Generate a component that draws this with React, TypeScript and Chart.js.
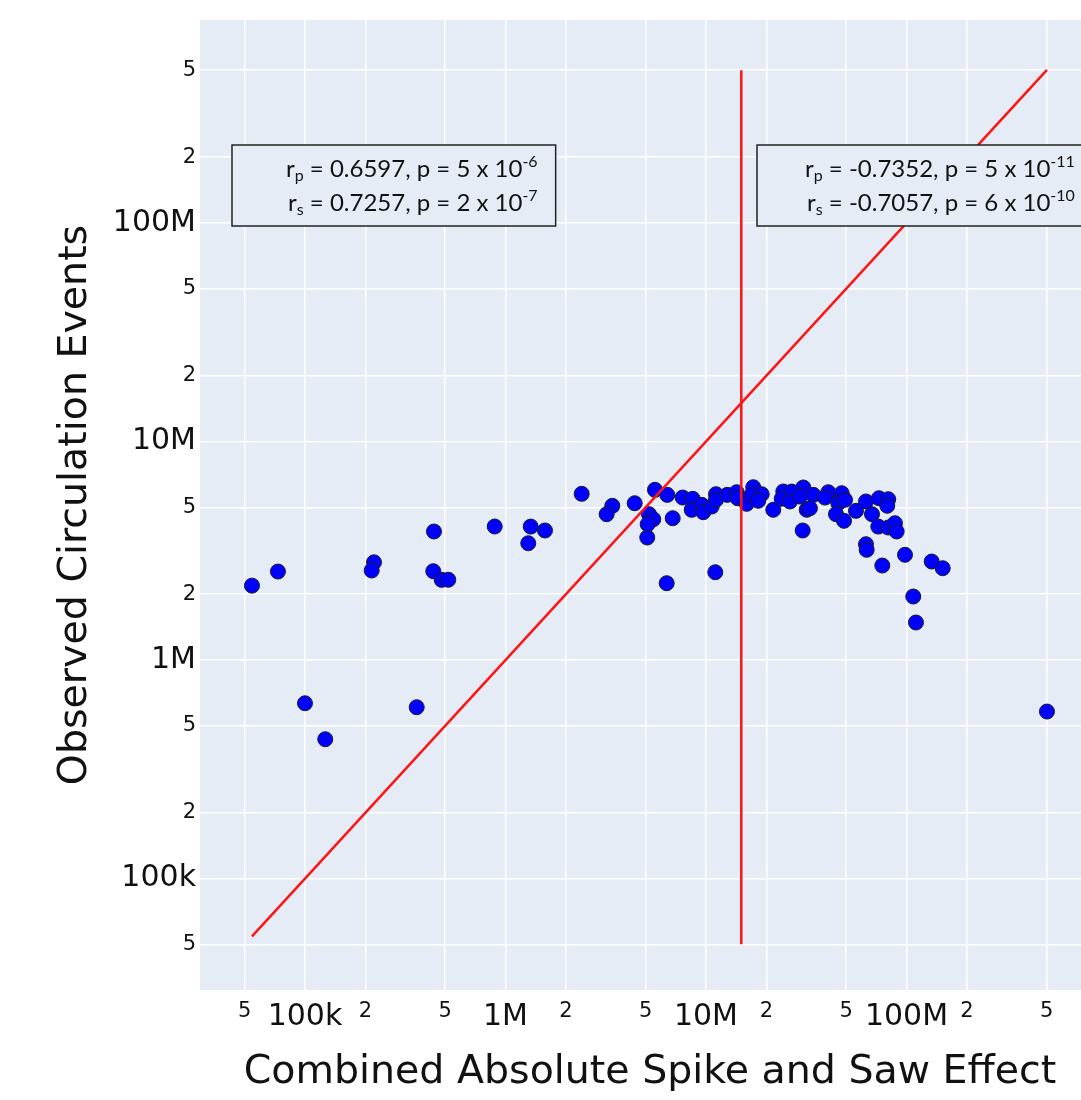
import React, { useEffect, useRef } from "react";
import { Chart, registerables } from "chart.js";

Chart.register(...registerables);

// Combined absolute spike and saw effect (x) vs observed circulation events (y)
const spikeSawEffect = [
  5.44e4, 7.33e4, 1.0e5, 1.262e5, 2.209e5, 2.151e5, 3.607e5, 4.399e5, 4.364e5, 4.806e5,
  5.185e5, 8.835e5, 1.336e6, 1.574e6, 1.299e6, 2.399e6, 3.41e6, 3.196e6, 4.41e6, 5.566e6,
  6.412e6, 5.195e6, 5.46e6, 5.12e6, 5.095e6, 6.823e6, 6.368e6, 7.65e6, 8.585e6, 8.487e6,
  9.52e6, 9.69e6, 1.068e7, 1.122e7, 1.122e7, 1.277e7, 1.423e7, 1.439e7, 1.596e7, 1.721e7,
  1.69e7, 1.896e7, 1.823e7, 2.166e7, 2.43e7, 2.386e7, 2.676e7, 2.624e7, 3.057e7, 2.943e7,
  3.18e7, 3.43e7, 3.036e7, 1.113e7, 3.3e7, 4.074e7, 3.922e7, 4.752e7, 4.57e7, 4.936e7,
  4.45e7, 4.88e7, 5.6e7, 6.28e7, 6.73e7, 7.29e7, 8.11e7, 8.02e7, 7.236e7, 8.11e7,
  8.76e7, 8.935e7, 6.28e7, 6.33e7, 7.575e7, 9.83e7, 1.336e8, 1.516e8, 1.081e8, 1.115e8,
  5.02e8,
];
const circulationEvents = [
  2.19e6, 2.54e6, 6.34e5, 4.34e5, 2.8e6, 2.568e6, 6.08e5, 3.874e6, 2.55e6, 2.328e6,
  2.33e6, 4.083e6, 4.08e6, 3.915e6, 3.424e6, 5.762e6, 5.077e6, 4.648e6, 5.218e6, 6.01e6,
  5.7e6, 4.65e6, 4.41e6, 4.183e6, 3.636e6, 4.457e6, 2.247e6, 5.542e6, 5.467e6, 4.868e6,
  5.131e6, 4.747e6, 5.04e6, 5.74e6, 5.41e6, 5.7e6, 5.861e6, 5.502e6, 5.186e6, 6.178e6,
  5.7e6, 5.74e6, 5.354e6, 4.87e6, 5.904e6, 5.47e6, 5.9e6, 5.315e6, 6.16e6, 5.6e6,
  4.87e6, 5.7e6, 3.915e6, 2.522e6, 4.95e6, 5.86e6, 5.54e6, 5.8e6, 5.22e6, 5.41e6,
  4.65e6, 4.336e6, 4.817e6, 5.315e6, 4.65e6, 5.5e6, 5.444e6, 5.08e6, 4.08e6, 4.04e6,
  4.228e6, 3.874e6, 3.388e6, 3.194e6, 2.707e6, 3.03e6, 2.823e6, 2.631e6, 1.953e6, 1.485e6,
  5.81e5,
];

// Reference lines
const identityLineX = [5.44e4, 5.02e8];
const identityLineY = [5.44e4, 5.02e8];
const thresholdLineX = [1.5e7, 1.5e7];
const thresholdLineY = [5e4, 5e8];

// Axis ticks
const axisTickValues = [5e4, 1e5, 2e5, 5e5, 1e6, 2e6, 5e6, 1e7, 2e7, 5e7, 1e8, 2e8, 5e8];
const axisTickLabels = ["5", "100k", "2", "5", "1M", "2", "5", "10M", "2", "5", "100M", "2", "5"];
const majorTickValues = [1e5, 1e6, 1e7, 1e8];

// Statistics annotations
const leftStatsSub = ["p", "s"];
const leftStatsText = [" = 0.6597, p = 5 x 10", " = 0.7257, p = 2 x 10"];
const leftStatsExp = ["-6", "-7"];
const rightStatsSub = ["p", "s"];
const rightStatsText = [" = -0.7352, p = 5 x 10", " = -0.7057, p = 6 x 10"];
const rightStatsExp = ["-11", "-10"];

const FONT = "'DejaVu Sans', Verdana, sans-serif";
const ANNO_FONT = "Lato, 'Open Sans', sans-serif";
const PLOT_BG = "#E5ECF6";
const MAIN_SIZE = 24;
const SMALL_SIZE = 16;

const isMajor = (v: number) => majorTickValues.some((m) => Math.abs(m - v) / m < 1e-6);
const labelFor = (v: number) => {
  const i = axisTickValues.findIndex((t) => Math.abs(t - v) / t < 1e-6);
  return i >= 0 ? axisTickLabels[i] : "";
};

const bgPlugin = {
  id: "plotBg",
  beforeDraw(chart: any) {
    const { ctx, chartArea } = chart;
    ctx.save();
    ctx.fillStyle = PLOT_BG;
    ctx.fillRect(chartArea.left, chartArea.top, chartArea.right - chartArea.left, chartArea.bottom - chartArea.top);
    ctx.restore();
  },
};

function measureLine(ctx: CanvasRenderingContext2D, sub: string, text: string, exp: string) {
  ctx.font = `${MAIN_SIZE}px ${ANNO_FONT}`;
  const wr = ctx.measureText("r").width;
  const wt = ctx.measureText(text).width;
  ctx.font = `${SMALL_SIZE}px ${ANNO_FONT}`;
  const ws = ctx.measureText(sub).width;
  const we = ctx.measureText(exp).width;
  return { wr, wt, ws, we, total: wr + ws + wt + we };
}

function drawLine(ctx: CanvasRenderingContext2D, sub: string, text: string, exp: string, right: number, baseline: number) {
  const m = measureLine(ctx, sub, text, exp);
  let x = right - m.total;
  ctx.textAlign = "left";
  ctx.textBaseline = "alphabetic";
  ctx.fillStyle = "#111";
  ctx.font = `${MAIN_SIZE}px ${ANNO_FONT}`;
  ctx.fillText("r", x, baseline);
  x += m.wr;
  ctx.font = `${SMALL_SIZE}px ${ANNO_FONT}`;
  ctx.fillText(sub, x, baseline + 4);
  x += m.ws;
  ctx.font = `${MAIN_SIZE}px ${ANNO_FONT}`;
  ctx.fillText(text, x, baseline);
  x += m.wt;
  ctx.font = `${SMALL_SIZE}px ${ANNO_FONT}`;
  ctx.fillText(exp, x, baseline - 10);
}

function drawBox(
  ctx: CanvasRenderingContext2D,
  left: number,
  top: number,
  padL: number,
  subs: string[],
  texts: string[],
  exps: string[]
) {
  let maxW = 0;
  for (let i = 0; i < texts.length; i++) maxW = Math.max(maxW, measureLine(ctx, subs[i], texts[i], exps[i]).total);
  const padR = 18;
  const w = padL + maxW + padR;
  const h = 81;
  ctx.save();
  ctx.fillStyle = "#E6ECF5";
  ctx.fillRect(left, top, w, h);
  ctx.strokeStyle = "#222";
  ctx.lineWidth = 1.5;
  ctx.strokeRect(left, top, w, h);
  for (let i = 0; i < texts.length; i++) {
    drawLine(ctx, subs[i], texts[i], exps[i], left + w - padR, top + 32 + i * 34);
  }
  ctx.restore();
}

const annoPlugin = {
  id: "statsBoxes",
  afterDraw(chart: any) {
    const { ctx, chartArea } = chart;
    drawBox(ctx, chartArea.left + 32, chartArea.top + 125, 54, leftStatsSub, leftStatsText, leftStatsExp);
    drawBox(ctx, chartArea.left + 557, chartArea.top + 125, 48, rightStatsSub, rightStatsText, rightStatsExp);
  },
};

export default function App() {
  const ref = useRef<HTMLCanvasElement | null>(null);

  useEffect(() => {
    if (!ref.current) return;
    const points = spikeSawEffect.map((x, i) => ({ x, y: circulationEvents[i] }));
    const identity = identityLineX.map((x, i) => ({ x, y: identityLineY[i] }));
    const threshold = thresholdLineX.map((x, i) => ({ x, y: thresholdLineY[i] }));

    const tickFont = (ctx: any) => ({
      family: FONT,
      size: ctx.tick && isMajor(ctx.tick.value) ? 30 : 21,
    });

    const setTicks = (scale: any) => {
      scale.ticks = axisTickValues.map((v) => ({ value: v, major: isMajor(v) }));
    };

    const chart = new Chart(ref.current, {
      type: "scatter",
      data: {
        datasets: [
          {
            data: identity,
            showLine: true,
            borderColor: "#FF1414",
            borderWidth: 2.5,
            pointRadius: 0,
            order: 0,
          },
          {
            data: threshold,
            showLine: true,
            borderColor: "#FF1414",
            borderWidth: 2.5,
            pointRadius: 0,
            order: 0,
          },
          {
            data: points,
            backgroundColor: "#0000FF",
            borderColor: "#1a1a2a",
            borderWidth: 1,
            pointRadius: 7.5,
            order: 1,
          },
        ],
      },
      options: {
        responsive: false,
        animation: false,
        devicePixelRatio: 1,
        events: [],
        layout: { autoPadding: false, padding: { left: 0, right: 0, top: 20, bottom: 0 } },
        plugins: {
          legend: { display: false },
          tooltip: { enabled: false },
        },
        scales: {
          x: {
            type: "logarithmic",
            min: 29950,
            max: 9.23e8,
            bounds: "data",
            afterBuildTicks: setTicks,
            afterFit: (s: any) => {
              s.height = 110;
            },
            border: { display: false },
            grid: { color: "#FFFFFF", lineWidth: 1.5, drawTicks: false },
            ticks: {
              autoSkip: false,
              maxRotation: 0,
              minRotation: 0,
              padding: 9,
              color: "#111",
              font: tickFont,
              callback: (v: any) => labelFor(Number(v)),
            },
            title: {
              display: true,
              text: "Combined Absolute Spike and Saw Effect",
              color: "#111",
              font: { family: FONT, size: 39.5 },
              padding: { top: 0, bottom: 4 },
            },
          },
          y: {
            type: "logarithmic",
            min: 30900,
            max: 8.49e8,
            bounds: "data",
            afterBuildTicks: setTicks,
            afterFit: (s: any) => {
              s.width = 200;
            },
            border: { display: false },
            grid: { color: "#FFFFFF", lineWidth: 1.5, drawTicks: false },
            ticks: {
              autoSkip: false,
              padding: 4,
              color: "#111",
              font: tickFont,
              callback: (v: any) => labelFor(Number(v)),
            },
            title: {
              display: true,
              text: "Observed Circulation Events",
              color: "#111",
              font: { family: FONT, size: 39.5 },
              padding: { top: 52, bottom: 0 },
            },
          },
        },
      },
      plugins: [bgPlugin, annoPlugin],
    } as any);

    return () => chart.destroy();
  }, []);

  return (
    <div
      style={{
        position: "fixed",
        left: 0,
        top: 0,
        width: 1081,
        height: 1100,
        overflow: "hidden",
        background: "#fff",
      }}
    >
      <canvas ref={ref} width={1100} height={1100} style={{ display: "block", width: 1100, height: 1100 }} />
    </div>
  );
}
